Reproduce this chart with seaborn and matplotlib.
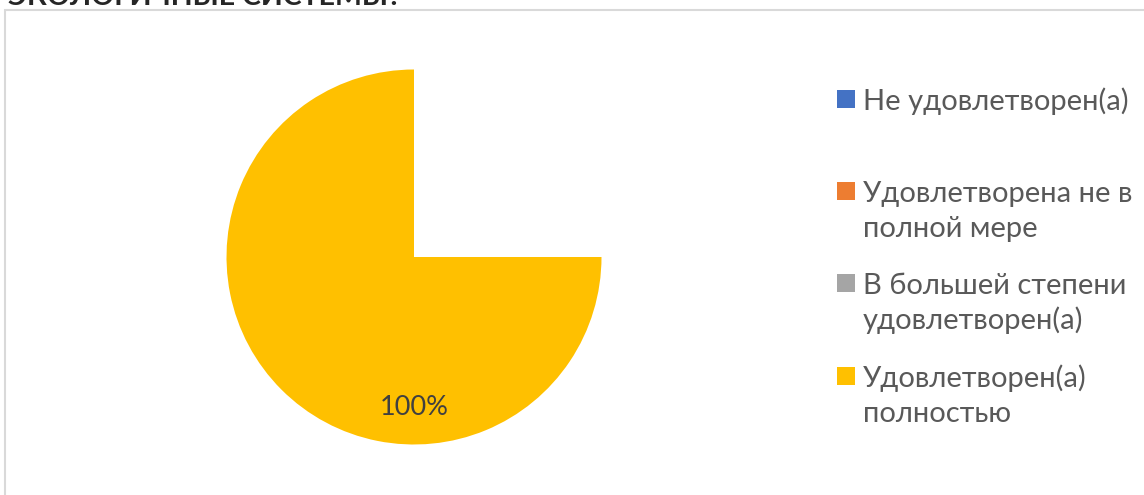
import numpy as np
import matplotlib
matplotlib.use("Agg")
import matplotlib.pyplot as plt
from matplotlib.patches import Rectangle
import seaborn as sns

# --- data ---
categories = [
    "Не удовлетворен(а)",
    "Удовлетворена не в\nполной мере",
    "В большей степени\nудовлетворен(а)",
    "Удовлетворен(а)\nполностью",
]
shares = [0, 0, 0, 100]  # percent
title_text = "ЭКОЛОГИЧНЫЕ СИСТЕМЫ?"

colors = ["#4472C4", "#ED7D31", "#A5A5A5", "#FFC000"]

sns.set_theme(style="white")
plt.rcParams["font.family"] = ["Lato", "DejaVu Sans"]

W, H = 1144, 495
fig = plt.figure(figsize=(W / 100, H / 100), dpi=100)
fig.patch.set_facecolor("white")

# chart frame (light gray border, runs off right and bottom)
fig.patches.append(Rectangle((5 / W, -0.05), 1.1, 1 - 10 / H + 0.05,
                             transform=fig.transFigure, fill=False,
                             edgecolor="#D9D9D9", linewidth=1.5))

# title, mostly clipped at the top edge like in the reference
fig.text(8 / W, 1 - 5 / H, title_text, fontsize=20.5, fontweight="bold",
         color="#262626", va="baseline", ha="left")

# --- pie ---
cx, cy, r = 414, 257, 187.5
ax = fig.add_axes([(cx - r) / W, (H - cy - r) / H, 2 * r / W, 2 * r / H])
vals = np.array(shares, dtype=float)
sweep = 0.75  # the reference renders the single full slice as three quarters
ax.pie(vals / vals.sum() * sweep, colors=colors, startangle=90,
       counterclock=True, normalize=False,
       wedgeprops=dict(linewidth=0))
ax.set_xlim(-1, 1)
ax.set_ylim(-1, 1)
ax.set_aspect("equal")
ax.axis("off")

# data labels at Excel's positions (clockwise from 12 o'clock)
cum = np.cumsum(vals) - vals / 2
for v, c in zip(vals, cum):
    if v <= 0:
        continue
    ang = np.deg2rad(90 - 360 * c / vals.sum())
    ax.text(0.805 * np.cos(ang), 0.805 * np.sin(ang), f"{v:.0f}%",
            ha="center", va="center", fontsize=19.5, color="#404040")

# --- legend (drawn by hand so the marker sits on the first line) ---
baselines = [110, 202, 294, 387]
line_gap = 35.5
for name, col, b in zip(categories, colors, baselines):
    fig.patches.append(Rectangle((837 / W, 1 - (b - 11 + 9) / H), 18 / W, 18 / H,
                                 transform=fig.transFigure, facecolor=col,
                                 edgecolor="none"))
    for k, line in enumerate(name.split("\n")):
        fig.text(863 / W, 1 - (b + k * line_gap) / H, line, fontsize=21,
                 color="#595959", va="baseline", ha="left")

fig.savefig("out.png", dpi=100)
